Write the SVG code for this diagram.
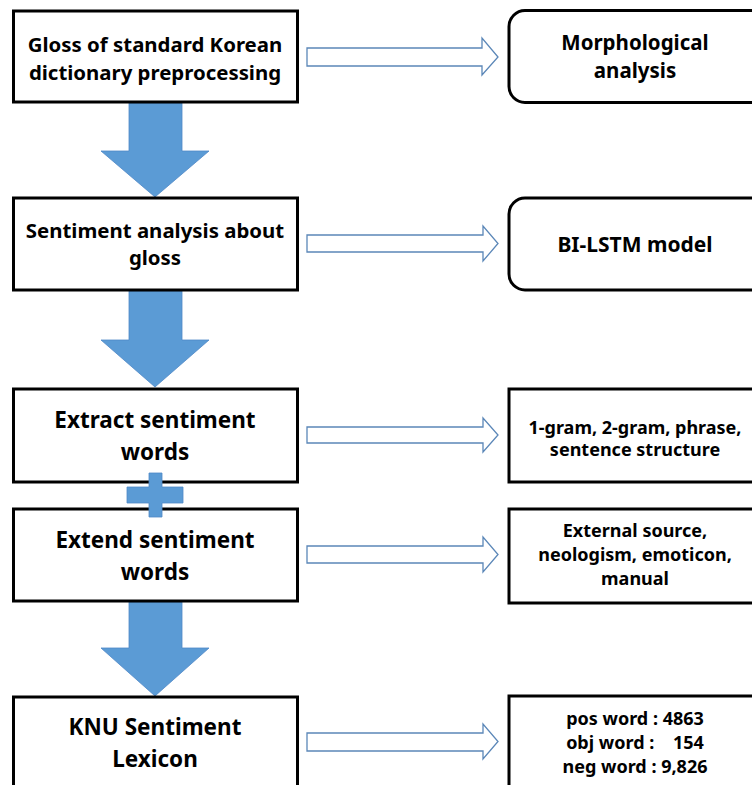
<svg xmlns="http://www.w3.org/2000/svg" width="752" height="785" viewBox="0 0 752 785">
<style>
.box{fill:#fff;stroke:#000;stroke-width:3}
.down{fill:#5b9bd5;stroke:#4f88c6;stroke-width:0.8}
.hollow{fill:#fff;stroke:#5b87b8;stroke-width:1.3;stroke-linejoin:miter}
text{font-family:"Noto Sans","Liberation Sans",sans-serif;font-weight:bold;fill:#000;text-anchor:middle}
.l{font-size:20.4px}
.xl{font-size:22.5px}
.m{font-size:20.5px}
.s{font-size:18px}
</style>
<rect width="752" height="785" fill="#fff"/>
<g id="connectors">
<path class="down" d="M129,103 H182 V151 H209 L155,197 L101,151 H129 Z"/>
<path class="down" d="M129,291 H182 V340 H209 L155,387 L101,340 H129 Z"/>
<path class="down" d="M129,602 H182 V648 H209 L155,696 L101,648 H129 Z"/>
<path class="hollow" d="M307,48 H482 V38 L498,57 L482,75 V66 H307 Z"/>
<path class="hollow" d="M307,235 H483 V226 L498,243.5 L483,261 V252 H307 Z"/>
<path class="hollow" d="M307,427 H483 V418 L498,435 L483,452 V443 H307 Z"/>
<path class="hollow" d="M307,546 H483 V537 L498,554.5 L483,572 V563 H307 Z"/>
<path class="hollow" d="M307,733 H483 V724 L498,741.5 L483,759 V751 H307 Z"/>
</g>
<g id="n1"><rect class="box" x="13.5" y="11" width="284" height="91"/>
<text class="l" x="155" y="52">Gloss of standard Korean</text>
<text class="l" x="155" y="80">dictionary preprocessing</text></g>
<g id="n2"><rect class="box" x="13.5" y="198" width="284" height="92"/>
<text class="l" x="155" y="238">Sentiment analysis about</text>
<text class="l" x="155" y="265">gloss</text></g>
<g id="n3"><rect class="box" x="13.5" y="389" width="284" height="93"/>
<text class="xl" x="155" y="428">Extract sentiment</text>
<text class="xl" x="155" y="460">words</text></g>
<g id="n4"><rect class="box" x="13.5" y="509" width="284" height="92"/>
<text class="xl" x="155" y="548">Extend sentiment</text>
<text class="xl" x="155" y="580">words</text></g>
<g id="n5"><rect class="box" x="13.5" y="697" width="284" height="110"/>
<text class="xl" x="155" y="735">KNU Sentiment</text>
<text class="xl" x="155" y="767">Lexicon</text></g>
<g id="plus"><path class="down" d="M149,473 H162 V487 H183 V503 H162 V517 H149 V503 H127 V487 H149 Z"/></g>
<g id="r1"><rect class="box" x="509" y="10.5" width="270" height="92" rx="16"/>
<text class="m" x="635" y="50">Morphological</text>
<text class="m" x="635" y="78">analysis</text></g>
<g id="r2"><rect class="box" x="509" y="198" width="270" height="92" rx="16"/>
<text class="m" x="635" y="252" style="font-size:21px">BI-LSTM model</text></g>
<g id="r3"><rect class="box" x="509" y="389" width="270" height="93"/>
<text class="s" x="635" y="434">1-gram, 2-gram, phrase,</text>
<text class="s" x="635" y="456">sentence structure</text></g>
<g id="r4"><rect class="box" x="509" y="509" width="270" height="94"/>
<text class="s" x="635" y="537">External source,</text>
<text class="s" x="635" y="561">neologism, emoticon,</text>
<text class="s" x="635" y="585">manual</text></g>
<g id="r5"><rect class="box" x="509" y="696" width="270" height="110"/>
<text class="s" x="635" y="725">pos word : 4863</text>
<text class="s" x="635" y="749" xml:space="preserve">obj word :    154</text>
<text class="s" x="635" y="773">neg word : 9,826</text></g>
</svg>
